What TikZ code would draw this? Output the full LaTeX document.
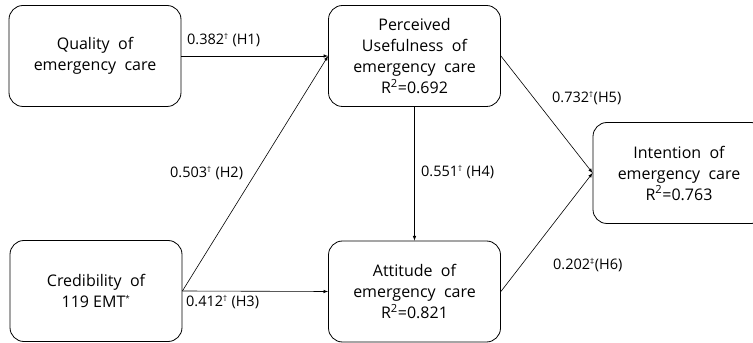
\documentclass[tikz,border=0pt]{standalone}
\usepackage{fontspec}
\setmainfont{Open Sans}
\usetikzlibrary{arrows}

\newcommand{\sig}[1]{\textsuperscript{\fontsize{8}{8}\selectfont #1}}

\begin{document}
\begin{tikzpicture}[x=1pt,y=1pt,
    box/.style={draw, rounded corners=14pt, minimum width=172pt, minimum height=101pt,
      align=center, line width=0.8pt, font=\fontsize{16}{21}\selectfont},
    coef/.style={inner sep=0pt, anchor=west, font=\fontsize{14.5}{18}\selectfont},
    link/.style={->, >=latex, line width=0.6pt}]
\useasboundingbox (0,0) rectangle (753,343);
\clip (0,0) rectangle (753,343);

% constructs
\node [box] (qual) at (95,287) {Quality\ \ of\\emergency\ \ care};
\node [box] (pu) at (414.5,287) {Perceived\\Usefulness\ \ of\\emergency\ \ care\\R\textsuperscript{2}=0.692};
\node [box] (cred) at (96,52) {Credibility\ \ of\\119 EMT\sig{*}};
\node [box] (att) at (414.5,51.5) {Attitude\ \ of\\emergency\ \ care\\R\textsuperscript{2}=0.821};
\node [box] (int) at (679,170) {Intention\ \ of\\emergency\ \ care\\R\textsuperscript{2}=0.763};

% paths
\draw [link] (qual.east) -- (pu.west);
\draw [link] (cred.east) -- (pu.west);
\draw [link] (cred.east) -- (att.west);
\draw [link] (pu.south) -- (att.north);
\draw [link] (pu.east) -- (int.west);
\draw [link] (att.east) -- (int.west);

% coefficients
\node [coef] (h1) at (187,303) {0.382\sig{†} (H1)};
\node [coef] (h2) at (170,170) {0.503\sig{†} (H2)};
\node [coef] (h3) at (186,41) {0.412\sig{†} (H3)};
\node [coef] (h4) at (421,171) {0.551\sig{†} (H4)};
\node [coef] (h5) at (552,245) {0.732\sig{†}(H5)};
\node [coef] (h6) at (553,78) {0.202\sig{‡}(H6)};
\end{tikzpicture}
\end{document}
